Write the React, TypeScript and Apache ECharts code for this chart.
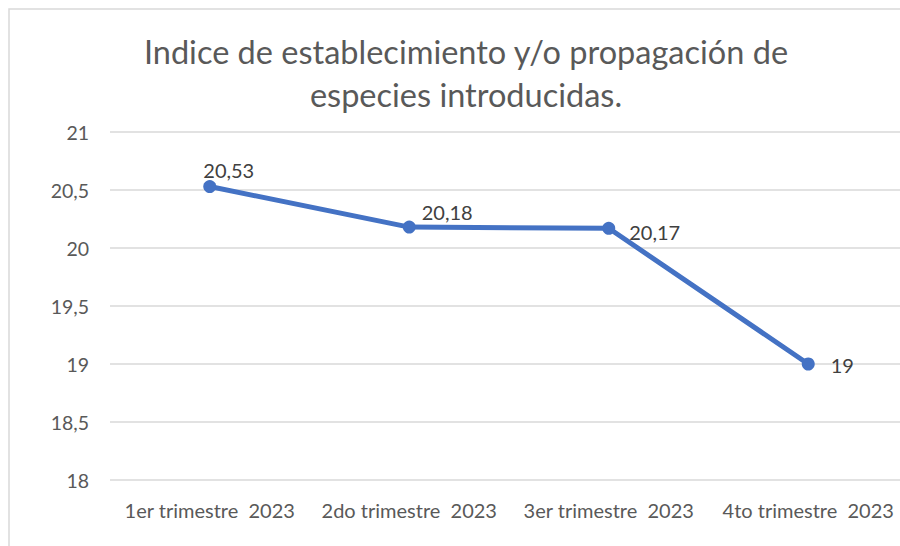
import React, { useEffect, useRef } from "react";
import * as echarts from "echarts";

const categories = ["1er trimestre  2023", "2do trimestre  2023", "3er trimestre  2023", "4to trimestre  2023"];
const values = [20.53, 20.18, 20.17, 19];
const titleText = "Indice de establecimiento y/o propagación de\nespecies introducidas.";

const FONT = "Lato, 'Open Sans', sans-serif";

export default function App() {
  const ref = useRef<HTMLDivElement>(null);
  useEffect(() => {
    document.body.style.margin = "0";
    const chart = echarts.init(ref.current!, null, { renderer: "svg" });
    const fmt = (v: number) => String(v).replace(".", ",");
    const labelOffsets: Array<{ position: string; offset: number[] }> = [
      { position: "top", offset: [19, 5] },
      { position: "right", offset: [1, -15] },
      { position: "right", offset: [9, 4] },
      { position: "right", offset: [11, 1] },
    ];
    chart.setOption({
      animation: false,
      backgroundColor: "#ffffff",
      textStyle: { fontFamily: FONT },
      title: {
        text: titleText,
        left: 461,
        textAlign: "center",
        top: 25,
        textStyle: { fontFamily: FONT, fontSize: 32.5, fontWeight: "normal", color: "#595959", lineHeight: 43 },
      },
      graphic: [
        {
          type: "rect",
          shape: { x: 9, y: 9, width: 1000, height: 1000 },
          style: { fill: "none", stroke: "#d9d9d9", lineWidth: 1.5 },
          silent: true,
        },
      ],
      grid: { left: 110, top: 132, width: 798, height: 348, containLabel: false },
      xAxis: {
        type: "category",
        data: categories,
        boundaryGap: true,
        axisLine: { show: false },
        axisTick: { show: false },
        axisLabel: { color: "#595959", fontSize: 20, fontFamily: FONT, margin: 20, interval: 0 },
      },
      yAxis: {
        type: "value",
        min: 18,
        max: 21,
        interval: 0.5,
        axisLine: { show: false },
        axisTick: { show: false },
        splitLine: { lineStyle: { color: "#d9d9d9", width: 1.5 } },
        axisLabel: {
          color: "#595959",
          fontSize: 19.5,
          fontFamily: FONT,
          margin: 21,
          formatter: (v: number) => fmt(v),
        },
      },
      series: [
        {
          type: "line",
          data: values.map((v, i) => ({
            value: v,
            label: labelOffsets[i],
          })),
          symbol: "circle",
          symbolSize: 13,
          lineStyle: { color: "#4472C4", width: 5 },
          itemStyle: { color: "#4472C4" },
          label: {
            show: true,
            color: "#404040",
            fontSize: 20,
            fontFamily: FONT,
            formatter: (p: any) => fmt(p.value),
          },
        },
      ],
    });
    return () => chart.dispose();
  }, []);
  return <div ref={ref} style={{ position: "fixed", left: 0, top: 0, width: 920, height: 546 }} />;
}
